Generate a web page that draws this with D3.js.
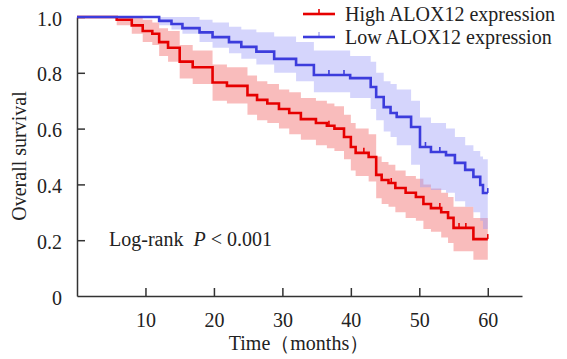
<!DOCTYPE html>
<html lang="en">
<head>
<meta charset="UTF-8">
<title>Overall survival by ALOX12 expression</title>
<style>
    body { margin: 0; background: #fff; }
    svg text { font-family: "Liberation Serif", "DejaVu Serif", "Noto Serif", serif !important; fill: #222; }
    .axis path, .axis line { stroke: #333; stroke-width: 1.5; fill: none; }
    .axis text { font-size: 20px; }
</style>
</head>
<body>
<svg width="567" height="359"></svg>
<script src="https://d3js.org/d3.v7.min.js"></script>
<script>
// High ALOX12 expression (red)
const highTime  = [0, 5.8, 8.0, 9.6, 11.0, 12.0, 13.3, 15.0, 16.9, 19.8, 21.9, 24.9, 26.3, 27.8, 29.5, 31.0, 32.7, 34.9, 36.5, 37.6, 39.0, 40.0, 40.7, 42.6, 43.7, 44.5, 45.5, 46.5, 48.0, 49.5, 50.6, 51.7, 53.2, 54.2, 55.0, 57.9, 60];
const highSurv  = [1.0, 0.99, 0.97, 0.95, 0.94, 0.91, 0.89, 0.84, 0.82, 0.765, 0.753, 0.72, 0.703, 0.69, 0.67, 0.656, 0.634, 0.62, 0.61, 0.60, 0.57, 0.534, 0.513, 0.498, 0.434, 0.416, 0.405, 0.387, 0.37, 0.355, 0.33, 0.315, 0.30, 0.28, 0.244, 0.204, 0.204];
const highLower = [1.0, 0.97, 0.94, 0.91, 0.90, 0.86, 0.84, 0.78, 0.76, 0.70, 0.69, 0.65, 0.63, 0.62, 0.60, 0.58, 0.56, 0.54, 0.53, 0.52, 0.49, 0.45, 0.43, 0.41, 0.35, 0.33, 0.32, 0.30, 0.28, 0.27, 0.24, 0.23, 0.21, 0.19, 0.16, 0.13, 0.13];
const highUpper = [1.0, 1.0, 1.0, 0.99, 0.98, 0.96, 0.95, 0.90, 0.88, 0.83, 0.82, 0.79, 0.77, 0.76, 0.74, 0.73, 0.71, 0.70, 0.69, 0.68, 0.65, 0.62, 0.60, 0.58, 0.50, 0.48, 0.47, 0.45, 0.43, 0.42, 0.40, 0.385, 0.37, 0.355, 0.32, 0.28, 0.28];
const highCensor = [36.8, 41.9, 45.9, 53.0, 55.8, 56.8, 60];

// Low ALOX12 expression (blue)
const lowTime  = [0, 12.0, 13.8, 15.4, 17.9, 19.8, 22.2, 24.0, 26.2, 28.8, 32.0, 34.6, 39.9, 42.9, 43.7, 44.8, 45.8, 46.7, 48.8, 50.1, 51.7, 53.9, 55.2, 56.7, 57.9, 58.9, 59.3, 60];
const lowSurv  = [1.0, 0.986, 0.975, 0.96, 0.945, 0.928, 0.91, 0.893, 0.876, 0.85, 0.828, 0.792, 0.781, 0.749, 0.713, 0.677, 0.656, 0.642, 0.606, 0.534, 0.516, 0.505, 0.477, 0.452, 0.427, 0.398, 0.369, 0.369];
const lowLower = [1.0, 0.97, 0.955, 0.94, 0.91, 0.89, 0.87, 0.85, 0.83, 0.80, 0.77, 0.73, 0.71, 0.67, 0.63, 0.59, 0.57, 0.54, 0.47, 0.39, 0.38, 0.37, 0.34, 0.32, 0.30, 0.27, 0.24, 0.24];
const lowUpper = [1.0, 1.0, 1.0, 1.0, 0.99, 0.98, 0.965, 0.955, 0.945, 0.93, 0.91, 0.88, 0.86, 0.84, 0.80, 0.77, 0.76, 0.74, 0.70, 0.64, 0.62, 0.60, 0.57, 0.54, 0.52, 0.50, 0.49, 0.49];
const lowCensor = [36.8, 39.0, 46.7, 50.9, 53.0, 60];

const xTicks = [10, 20, 30, 40, 50, 60];
const yTicks = [0, 0.2, 0.4, 0.6, 0.8, 1.0];
const legendLabels = ["High ALOX12 expression", "Low ALOX12 expression"];

const serif = "'Liberation Serif', 'DejaVu Serif', serif";
const svg = d3.select("svg");

const x = d3.scaleLinear().domain([0, 65]).range([77, 522]);
const y = d3.scaleLinear().domain([0, 1]).range([296, 17]);

function stepAt(times, surv, t) {
    let v = surv[0];
    for (let i = 0; i < times.length; i++) if (times[i] <= t) v = surv[i];
    return v;
}

const groups = [
    { time: highTime, surv: highSurv, lo: highLower, hi: highUpper, censor: highCensor,
      line: "#e60000", band: "#f06060" },
    { time: lowTime, surv: lowSurv, lo: lowLower, hi: lowUpper, censor: lowCensor,
      line: "#3c3cdc", band: "#9a9af7" }
];

// confidence bands
groups.forEach(g => {
    const pts = g.time.map((t, i) => ({ t, lo: g.lo[i], hi: g.hi[i] }));
    svg.append("path")
        .datum(pts)
        .attr("fill", g.band)
        .attr("fill-opacity", 0.42)
        .attr("d", d3.area().curve(d3.curveStepAfter)
            .x(d => x(d.t)).y0(d => y(d.lo)).y1(d => y(d.hi)));
});

// axes
svg.append("g")
    .attr("class", "axis")
    .attr("transform", `translate(0,${y(0)})`)
    .call(d3.axisBottom(x).tickValues(xTicks).tickSizeInner(-8).tickSizeOuter(0).tickPadding(17))
    .attr("font-family", serif)
    .call(g => g.selectAll("text").attr("dy", "0.71em"));

svg.append("g")
    .attr("class", "axis")
    .attr("transform", `translate(${x(0)},0)`)
    .call(d3.axisLeft(y).tickValues(yTicks).tickSizeInner(-8).tickSizeOuter(0).tickPadding(15)
        .tickFormat(d => d === 0 ? "0" : d3.format(".1f")(d)))
    .attr("font-family", serif)
    .call(g => g.selectAll("text").attr("dy", "0.4em"))
    .call(g => g.selectAll(".tick").filter(d => d === 0).select("line").remove());

// survival step lines + censor marks
groups.forEach(g => {
    const pts = g.time.map((t, i) => ({ t, s: g.surv[i] }));
    svg.append("path")
        .datum(pts)
        .attr("fill", "none")
        .attr("stroke", g.line)
        .attr("stroke-width", 2.6)
        .attr("d", d3.line().curve(d3.curveStepAfter).x(d => x(d.t)).y(d => y(d.s)));

    svg.selectAll(null)
        .data(g.censor)
        .enter().append("line")
        .attr("x1", d => x(d)).attr("x2", d => x(d))
        .attr("y1", d => y(stepAt(g.time, g.surv, d)))
        .attr("y2", d => y(stepAt(g.time, g.surv, d)) - 5)
        .attr("stroke", g.line)
        .attr("stroke-width", 1.6);
});

// axis titles
svg.append("text")
    .attr("transform", "translate(26,156) rotate(-90)")
    .attr("text-anchor", "middle")
    .style("font-size", "20px")
    .text("Overall survival");

svg.append("text")
    .attr("x", 299)
    .attr("y", 350)
    .attr("text-anchor", "middle")
    .style("font-size", "20px")
    .text("Time（months）");

// log-rank annotation
const lr = svg.append("text")
    .attr("x", 109)
    .attr("y", 246)
    .style("font-size", "20px");
lr.append("tspan").text("Log-rank\u2002");
lr.append("tspan").style("font-style", "italic").text("P");
lr.append("tspan").text(" < 0.001");

// legend
const legend = svg.selectAll(".legend")
    .data(legendLabels)
    .enter().append("g")
    .attr("class", "legend")
    .attr("transform", (d, i) => `translate(0,${14 + i * 23})`);

legend.append("line")
    .attr("x1", 303).attr("x2", 335)
    .attr("stroke", (d, i) => groups[i].line)
    .attr("stroke-width", 2.6);

legend.append("line")
    .attr("x1", 319).attr("x2", 319)
    .attr("y1", 0).attr("y2", -5)
    .attr("stroke", (d, i) => groups[i].line)
    .attr("stroke-opacity", (d, i) => i === 0 ? 1 : 0.4)
    .attr("stroke-width", 1.6);

legend.append("text")
    .attr("x", 345)
    .attr("y", 0)
    .attr("dy", "0.35em")
    .style("font-size", "20px")
    .text(d => d);
</script>
</body>
</html>
